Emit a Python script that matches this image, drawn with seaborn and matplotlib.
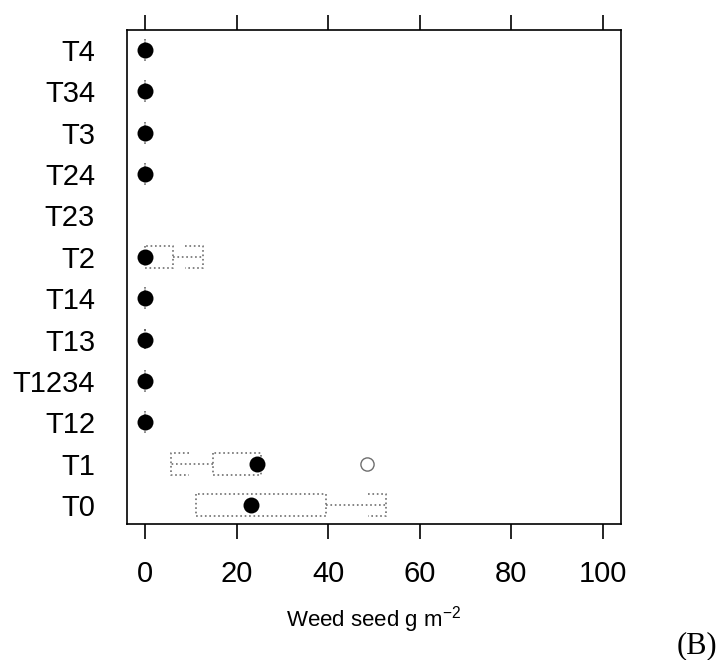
import numpy as np
import pandas as pd
import matplotlib
matplotlib.use("Agg")
import matplotlib.pyplot as plt
import seaborn as sns

# ---- data -------------------------------------------------------------
treatments = ["T4", "T34", "T3", "T24", "T23", "T2",
              "T14", "T13", "T1234", "T12", "T1", "T0"]
# plot values (weed seed, g m-2) per treatment; T23 has no data shown
seed_T4 = [0, 0, 0, 0, 0]
seed_T34 = [0, 0, 0, 0, 0]
seed_T3 = [0, 0, 0, 0, 0]
seed_T24 = [0, 0, 0, 0, 0]
seed_T23 = []
seed_T2 = [0, 0, 0, 6.1, 12.6]
seed_T14 = [0, 0, 0, 0, 0]
seed_T13 = [0, 0, 0, 0, 0]
seed_T1234 = [0, 0, 0, 0, 0]
seed_T12 = [0, 0, 0, 0, 0]
seed_T1 = [5.6, 14.8, 24.5, 25.3, 48.4]
seed_T0 = [11.1, 11.1, 23.1, 39.4, 52.6]
x_ticks = [0, 20, 40, 60, 80, 100]
x_label = "Weed seed g m$^{-2}$"
panel_tag = "(B)"

values = {
    "T4": seed_T4, "T34": seed_T34, "T3": seed_T3, "T24": seed_T24,
    "T23": seed_T23, "T2": seed_T2, "T14": seed_T14, "T13": seed_T13,
    "T1234": seed_T1234, "T12": seed_T12, "T1": seed_T1, "T0": seed_T0,
}
df = pd.DataFrame([(t, v) for t in treatments for v in values[t]],
                  columns=["trt", "seed"])
med_df = df.groupby("trt", as_index=False)["seed"].median()

# ---- style ----------------------------------------------------------------
sns.set_style("white")
plt.rcParams["font.family"] = ["Liberation Sans", "DejaVu Sans"]
plt.rcParams["mathtext.fontset"] = "custom"
plt.rcParams["mathtext.rm"] = "Liberation Sans"
plt.rcParams["mathtext.it"] = "Liberation Sans:italic"
plt.rcParams["text.color"] = "black"
plt.rcParams["axes.labelcolor"] = "black"
plt.rcParams["xtick.color"] = "black"
plt.rcParams["ytick.color"] = "black"

gray = "#6e6e6e"
box_w = 0.53
arm = 4.0

fig = plt.figure(figsize=(7.21, 6.60), dpi=100)
ax = fig.add_axes([127 / 721, 1 - 524 / 660, (621 - 127) / 721, (524 - 30) / 660])

sns.boxplot(data=df, x="seed", y="trt", order=treatments, orient="h",
            width=box_w, whis=1.5, fill=False, color=gray, linewidth=1.2,
            showcaps=False,
            boxprops=dict(linestyle=":"),
            whiskerprops=dict(linestyle=":"),
            medianprops=dict(visible=False),
            flierprops=dict(marker="o", markersize=9.5,
                            markerfacecolor="white", markeredgecolor=gray,
                            markeredgewidth=1.0),
            ax=ax)

# bracket-shaped whisker ends (lattice style)
for i, t in enumerate(treatments):
    v = np.asarray(values[t], dtype=float)
    if v.size == 0:
        continue
    q1, q3 = np.percentile(v, [25, 75])
    iqr = q3 - q1
    lo = v[v >= q1 - 1.5 * iqr].min()
    hi = v[v <= q3 + 1.5 * iqr].max()
    h = box_w / 2
    for end, sgn, edge in ((lo, 1, q1), (hi, -1, q3)):
        if abs(end - edge) > 1e-9:
            ax.plot([end + sgn * arm, end, end, end + sgn * arm],
                    [i - h, i - h, i + h, i + h],
                    color=gray, lw=1.2, ls=":", zorder=3)

sns.stripplot(data=med_df, x="seed", y="trt", order=treatments,
              orient="h", jitter=False, color="black", size=11.5,
              linewidth=0, ax=ax, zorder=5)

ax.set_xlim(-4, 104)
ax.set_ylim(11.46, -0.484)
ax.set_xticks(x_ticks)
ax.set_xticklabels([str(v) for v in x_ticks])
ax.tick_params(axis="x", which="both", top=True, bottom=True,
               labeltop=False, direction="out", length=10.8, width=1.2,
               labelsize=21, pad=15, color="black", labelcolor="black")
ax.tick_params(axis="y", length=0, pad=23, labelsize=21, labelcolor="black")
for s in ax.spines.values():
    s.set_visible(True)
    s.set_color("black")
    s.set_linewidth(1.2)
ax.set_ylabel("")
ax.set_xlabel(x_label, fontsize=16, labelpad=12, color="black")

fig.text(717 / 721, 1 - 653 / 660, panel_tag, ha="right", va="baseline",
         fontsize=22, color="black",
         family=["Liberation Serif", "DejaVu Serif"])

fig.savefig("out.png", dpi=100)
